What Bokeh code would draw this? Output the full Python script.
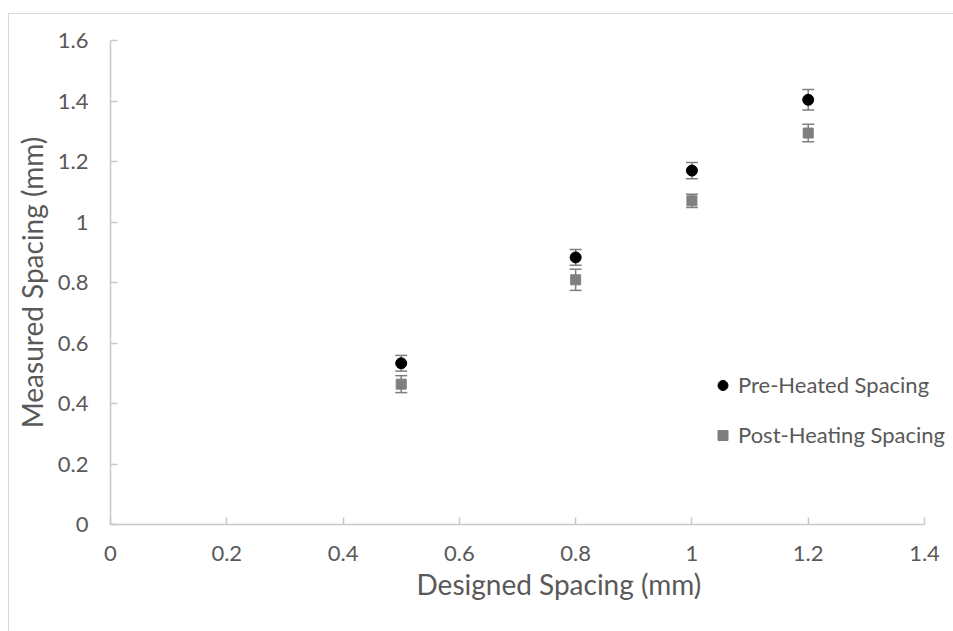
from bokeh.plotting import figure
from bokeh.models import (ColumnDataSource, Whisker, TeeHead, FixedTicker, Legend,
                          LegendItem, Range1d, Title)
from bokeh.embed import file_html
from bokeh.resources import INLINE

# Designed vs measured spacing, with standard-deviation error bars
designed = [0.5, 0.8, 1.0, 1.2]
pre_heated = [0.533, 0.883, 1.170, 1.404]
pre_heated_err = [0.026, 0.026, 0.027, 0.034]
post_heating = [0.464, 0.809, 1.070, 1.294]
post_heating_err = [0.028, 0.035, 0.022, 0.029]

x_ticks = [0, 0.2, 0.4, 0.6, 0.8, 1.0, 1.2, 1.4]
x_tick_labels = ["0", "0.2", "0.4", "0.6", "0.8", "1", "1.2", "1.4"]
y_ticks = [0, 0.2, 0.4, 0.6, 0.8, 1.0, 1.2, 1.4, 1.6]
y_tick_labels = ["0", "0.2", "0.4", "0.6", "0.8", "1", "1.2", "1.4", "1.6"]

FONT = "Lato"
TEXT = "#595959"
AXIS = "#c8c8c8"
GRAY = "#7f7f7f"

X_MAX, Y_MAX = 1.4, 1.6
# a little room past the last x tick so the legend text is not clipped
X_PAD = X_MAX * 25 / 814

pre_src = ColumnDataSource(dict(
    x=designed, y=pre_heated,
    lo=[v - e for v, e in zip(pre_heated, pre_heated_err)],
    hi=[v + e for v, e in zip(pre_heated, pre_heated_err)],
))
post_src = ColumnDataSource(dict(
    x=designed, y=post_heating,
    lo=[v - e for v, e in zip(post_heating, post_heating_err)],
    hi=[v + e for v, e in zip(post_heating, post_heating_err)],
))

p = figure(
    width=945, height=618,
    x_range=Range1d(0, X_MAX + X_PAD), y_range=Range1d(0, Y_MAX),
    output_backend="svg", toolbar_location=None,
    min_border_left=101, min_border_right=5,
    min_border_top=26, min_border_bottom=108,
    margin=(13, 0, 0, 8),
    styles={"border-left": "1px solid #d9d9d9", "border-top": "1px solid #d9d9d9"},
)
p.outline_line_color = None
p.grid.visible = False
p.background_fill_color = "white"
p.border_fill_color = "white"

for ax, ticks, labels, hi in ((p.xaxis[0], x_ticks, x_tick_labels, X_MAX),
                              (p.yaxis[0], y_ticks, y_tick_labels, Y_MAX)):
    ax.ticker = FixedTicker(ticks=ticks)
    ax.bounds = (0, hi)
    ax.major_label_overrides = dict(zip(ticks, labels))
    ax.minor_tick_line_color = None
    ax.major_tick_in = 7
    ax.major_tick_out = 0
    ax.major_tick_line_color = AXIS
    ax.axis_line_color = AXIS
    ax.axis_line_width = 1.5
    ax.major_tick_line_width = 1.5
    ax.major_label_text_font = FONT
    ax.major_label_text_font_size = "22px"
    ax.major_label_text_color = TEXT
    ax.axis_label_text_font = FONT
    ax.axis_label_text_font_size = "28px"
    ax.axis_label_text_font_style = "normal"
    ax.axis_label_text_color = TEXT

p.xaxis.major_label_standoff = 21
p.yaxis.major_label_standoff = 22
p.yaxis.axis_label = "Measured Spacing (mm)"
p.yaxis.axis_label_standoff = 6

x_title = Title(text="Designed Spacing (mm)", align="left", offset=306,
                text_font=FONT, text_font_size="28px", text_font_style="normal",
                text_color=TEXT, standoff=2)
p.add_layout(x_title, "below")

r_pre = p.scatter("x", "y", source=pre_src, marker="circle", size=11,
                  fill_color="black", line_color="black")
r_post = p.scatter("x", "y", source=post_src, marker="square", size=10,
                   fill_color=GRAY, line_color=GRAY)

for src in (pre_src, post_src):
    w = Whisker(base="x", lower="lo", upper="hi", source=src, dimension="height",
                line_color=GRAY, line_width=1.5,
                upper_head=TeeHead(size=12, line_color=GRAY, line_width=1.5),
                lower_head=TeeHead(size=12, line_color=GRAY, line_width=1.5))
    p.add_layout(w)

legend = Legend(items=[
    LegendItem(label="Pre-Heated Spacing", renderers=[r_pre]),
    LegendItem(label="Post-Heating Spacing", renderers=[r_post]),
], location=(600, 76))
legend.label_text_font = FONT
legend.label_text_font_size = "22px"
legend.label_text_color = TEXT
legend.glyph_width = 25
legend.glyph_height = 26
legend.label_height = 26
legend.spacing = 23
legend.label_standoff = 3
legend.padding = 0
legend.margin = 0
legend.border_line_color = None
legend.background_fill_alpha = 0
p.add_layout(legend)

open("out.html", "w").write(file_html(p, INLINE))
